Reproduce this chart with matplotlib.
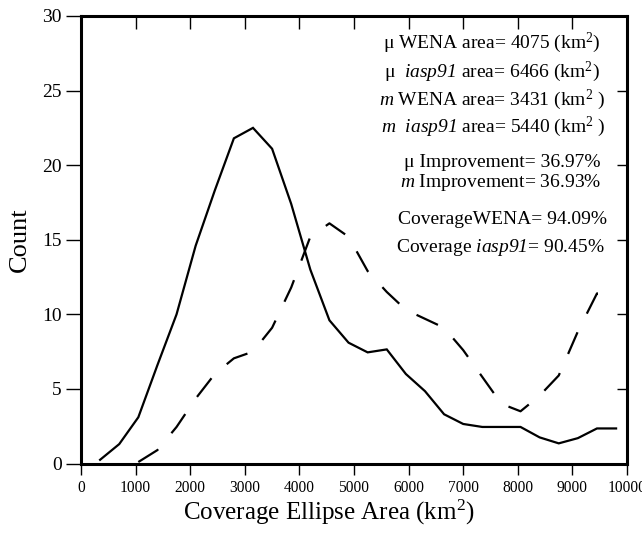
import matplotlib
matplotlib.use("Agg")
import matplotlib.pyplot as plt
from matplotlib.ticker import MultipleLocator

plt.rcParams["font.family"] = ["Liberation Serif", "DejaVu Serif"]
plt.rcParams["mathtext.fontset"] = "custom"
plt.rcParams["mathtext.rm"] = "Liberation Serif"
plt.rcParams["mathtext.it"] = "Liberation Serif:italic"
# \mathsf used as a plain italic so digits stay italic too
plt.rcParams["mathtext.sf"] = "Liberation Serif:italic"
plt.rcParams["lines.scale_dashes"] = False

# histogram bin centres (km^2) and counts
area_wena = [350, 700, 1050, 1400, 1750, 2100, 2450, 2800, 3150, 3500,
             3850, 4200, 4550, 4900, 5250, 5600, 5950, 6300, 6650, 7000,
             7350, 7700, 8050, 8400, 8750, 9100, 9450, 9800]
count_wena = [0.25, 1.3, 3.1, 6.6, 10.0, 14.6, 18.3, 21.8, 22.5, 21.1,
              17.4, 13.0, 9.6, 8.1, 7.45, 7.65, 6.0, 4.85, 3.3, 2.65,
              2.45, 2.45, 2.45, 1.75, 1.35, 1.7, 2.35, 2.35]

area_iasp = [1050, 1400, 1750, 2100, 2450, 2800, 3150, 3500, 3850, 4200,
             4550, 4900, 5250, 5600, 5950, 6300, 6650, 7000, 7350, 7700,
             8050, 8400, 8750, 9100, 9450, 9800]
count_iasp = [0.1, 0.9, 2.45, 4.35, 6.0, 7.05, 7.5, 9.1, 11.8, 15.2,
              16.1, 15.2, 12.9, 11.5, 10.3, 9.7, 9.1, 7.6, 5.8, 4.0,
              3.5, 4.55, 5.9, 8.85, 11.4, 11.4]

stats_lines = [
    r"μ WENA area= 4075 (km$^{2}$)",
    r"μ  $\mathsf{iasp91}$ area= 6466 (km$^{2}$)",
    r"$m$ WENA area= 3431 (km$^{2}$ )",
    r"$m$  $\mathsf{iasp91}$ area= 5440 (km$^{2}$ )",
    r"μ Improvement= 36.97%",
    r"$m$ Improvement= 36.93%",
    r"CoverageWENA= 94.09%",
    r"Coverage $\mathsf{iasp91}$= 90.45%",
]
stats_y = [43, 72, 100, 127, 162, 182, 220, 247]  # pixel rows from top
stats_x = [600, 600, 605, 605, 601, 601, 607, 605]

fig = plt.figure(figsize=(6.42, 5.35), dpi=100)
ax = fig.add_axes([81 / 642, 1 - 463.5 / 535, 546 / 642, 447.5 / 535])

ax.plot(area_wena, count_wena, color="black", linewidth=1.6,
        solid_joinstyle="miter")
ax.plot(area_iasp, count_iasp, color="black", linewidth=1.6,
        dashes=(17, 15), dash_capstyle="butt")

ax.set_xlim(0, 10000)
ax.set_ylim(0, 30)
ax.xaxis.set_major_locator(MultipleLocator(1000))
ax.yaxis.set_major_locator(MultipleLocator(5))
ax.tick_params(axis="x", direction="out", length=8, width=1,
               labelsize=11.2, pad=4)
ax.tick_params(axis="y", direction="out", length=11, width=1,
               labelsize=14, pad=3)
for sp in ax.spines.values():
    sp.set_linewidth(2.2)

top = ax.secondary_xaxis("top")
top.xaxis.set_major_locator(MultipleLocator(1000))
top.tick_params(direction="in", length=9, width=1, labeltop=False)
right = ax.secondary_yaxis("right")
right.yaxis.set_major_locator(MultipleLocator(5))
right.tick_params(direction="in", length=7, width=1, labelright=False)

ax.set_xlabel(r"Coverage Ellipse Area (km$^{2}$)", fontsize=18)
ax.xaxis.set_label_coords(0.454, -0.077, transform=ax.transAxes)
ax.xaxis.label.set_va("top")
ax.set_ylabel("Count", fontsize=19, labelpad=8)

for s, xp, yp in zip(stats_lines, stats_x, stats_y):
    fig.text(xp / 642, 1 - yp / 535, s, ha="right", va="center",
             fontsize=14)

fig.savefig("out.png", dpi=100)
